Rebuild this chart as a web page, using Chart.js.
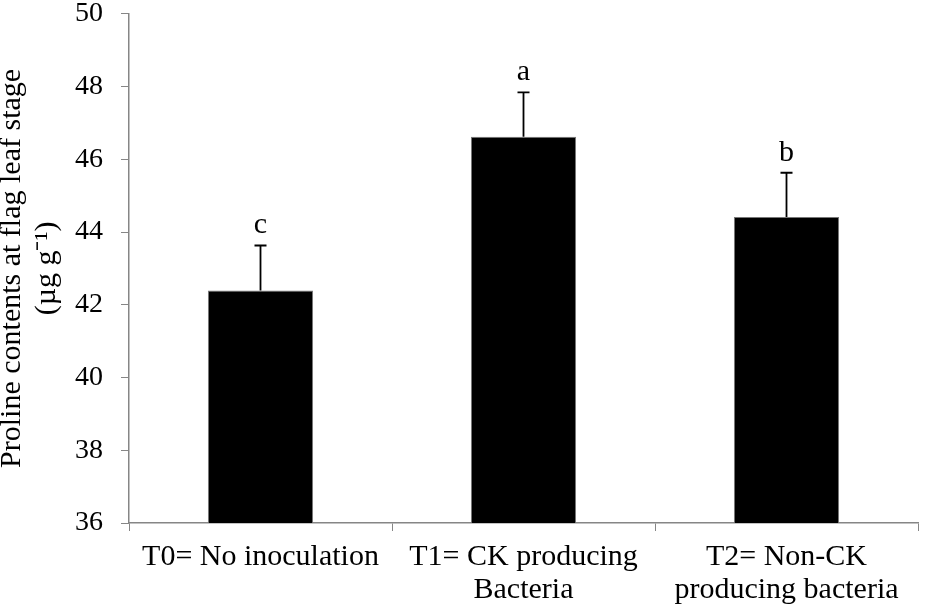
<!DOCTYPE html>
<html>
<head>
<meta charset="utf-8">
<title>Proline contents</title>
<script src="https://cdn.jsdelivr.net/npm/chart.js@4.4.1/dist/chart.umd.min.js"></script>
<style>
    html, body { margin: 0; padding: 0; background: #fff; overflow: hidden; }
    /* canvas is a bit taller than the window and pulled up so the plot sits like the original */
    #wrap { width: 928px; height: 638px; margin-top: -21px; position: relative; }
</style>
</head>
<body>
<div id="wrap"><canvas id="prolineChart"></canvas></div>
<script>
// Data
const categories = [
    ['T0= No inoculation'],
    ['T1= CK producing', 'Bacteria'],
    ['T2= Non-CK', 'producing bacteria']
];
const prolineMeans = [42.39, 46.62, 44.41];
const prolineErrors = [1.24, 1.22, 1.22];
const significance = ['c', 'a', 'b'];
const yTicks = [36, 38, 40, 42, 44, 46, 48, 50];

const serif = '"Liberation Serif", "Times New Roman", serif';
const axisGrey = '#868686';

// Upper error bars and letters above them
const errorBarPlugin = {
    id: 'errorBars',
    afterDatasetsDraw(chart) {
        const ctx = chart.ctx;
        const yScale = chart.scales.y;
        const meta = chart.getDatasetMeta(0);
        ctx.save();
        ctx.strokeStyle = '#000';
        ctx.lineWidth = 1.8;
        ctx.fillStyle = '#000';
        ctx.font = '30px ' + serif;
        ctx.textAlign = 'center';
        ctx.textBaseline = 'alphabetic';
        meta.data.forEach(function(bar, i) {
            const top = yScale.getPixelForValue(prolineMeans[i] + prolineErrors[i]);
            ctx.beginPath();
            ctx.moveTo(bar.x, bar.y);
            ctx.lineTo(bar.x, top);
            ctx.moveTo(bar.x - 6, top);
            ctx.lineTo(bar.x + 6, top);
            ctx.stroke();
            ctx.fillText(significance[i], bar.x, top - 12);
        });
        ctx.restore();
    }
};

new Chart(document.getElementById('prolineChart'), {
    type: 'bar',
    data: {
        labels: categories,
        datasets: [{
            data: prolineMeans,
            backgroundColor: '#000',
            borderColor: '#777',
            borderWidth: 1,
            categoryPercentage: 1.0,
            barPercentage: 0.4
        }]
    },
    options: {
        responsive: true,
        maintainAspectRatio: false,
        animation: false,
        layout: { padding: { top: 0, right: 10, bottom: 0, left: 0 } },
        plugins: {
            legend: { display: false },
            tooltip: { enabled: false }
        },
        scales: {
            x: {
                grid: {
                    offset: true,
                    drawOnChartArea: false,
                    drawTicks: true,
                    tickLength: 8,
                    color: axisGrey
                },
                border: { color: axisGrey, width: 1.5 },
                ticks: {
                    color: '#000',
                    padding: 10,
                    maxRotation: 0,
                    autoSkip: false,
                    font: { family: serif, size: 30, lineHeight: 1.1 }
                }
            },
            y: {
                min: yTicks[0],
                max: yTicks[yTicks.length - 1],
                afterBuildTicks: function(axis) {
                    axis.ticks = yTicks.map(v => ({ value: v }));
                },
                grid: {
                    drawOnChartArea: false,
                    drawTicks: true,
                    tickLength: 8,
                    color: axisGrey
                },
                border: { color: axisGrey, width: 1.5 },
                ticks: {
                    color: '#000',
                    padding: 18,
                    font: { family: serif, size: 28 }
                },
                title: {
                    display: true,
                    text: ['Proline contents at flag leaf stage', '(\u00b5g g\u207b\u00b9)'],
                    color: '#000',
                    padding: { top: -5, bottom: -7 },
                    font: { family: serif, size: 30, lineHeight: 1.15 }
                }
            }
        }
    },
    plugins: [errorBarPlugin]
});
</script>
</body>
</html>
